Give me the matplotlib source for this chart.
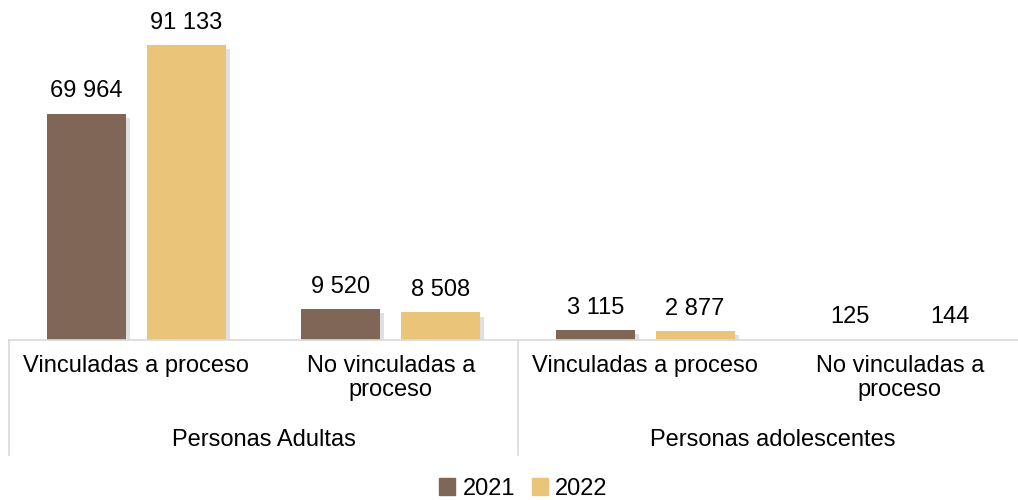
import matplotlib.pyplot as plt
import matplotlib.patheffects as pe
import matplotlib.transforms as mtransforms
from matplotlib.patches import Patch

plt.rcParams["font.family"] = ["Liberation Sans", "DejaVu Sans"]

categories = ["Vinculadas a proceso", "No vinculadas a\nproceso",
              "Vinculadas a proceso", "No vinculadas a\nproceso"]
groups = ["Personas Adultas", "Personas adolescentes"]
years = ["2021", "2022"]
values_2021 = [69964, 9520, 3115, 125]
values_2022 = [91133, 8508, 2877, 144]

COLORS = {"2021": "#806656", "2022": "#e9c479", "axis": "#d9d9d9"}


def fmt(v):
    return f"{v:,}".replace(",", " ")


def main():
    fig = plt.figure(figsize=(10.18, 5.0), dpi=100)
    ax = fig.add_axes([9 / 1018, 160 / 500, 1009 / 1018, 340 / 500])
    ax.set_xlim(-0.5, -0.5 + 1009 / 254.5)
    ax.set_ylim(0, 91133 * 340 / 295)
    ax.axis("off")

    shadow = [pe.SimplePatchShadow(offset=(3, -3), shadow_rgbFace="#999999", alpha=0.3), pe.Normal()]
    width = 0.31
    xs = list(range(len(categories)))
    for off, year, vals in [(-0.196, "2021", values_2021), (0.196, "2022", values_2022)]:
        bars = ax.bar([x + off for x in xs], vals, width=width, color=COLORS[year], label=year)
        for b, v in zip(bars, vals):
            b.set_path_effects(shadow)
            ax.annotate(fmt(v), (b.get_x() + b.get_width() / 2, v), xytext=(0, 8),
                        textcoords="offset points", ha="center", va="bottom", fontsize=17)

    trans = mtransforms.blended_transform_factory(ax.transData, ax.transAxes)
    ax.plot([-0.5, 3.6], [0, 0], color=COLORS["axis"], lw=1.2, transform=trans, clip_on=False)
    for sx in [-0.5, 1.5, 3.5]:
        ax.plot([sx, sx], [0, -0.338], color=COLORS["axis"], lw=1.2, transform=trans, clip_on=False)

    for x, lab in zip(xs, categories):
        ax.text(x, -0.045, lab, ha="center", va="top", fontsize=17, linespacing=1.1,
                transform=trans)
    for i, g in enumerate(groups):
        ax.text(2 * i + 0.5, -0.294, g, ha="center", va="center", fontsize=17, transform=trans)

    handles = [Patch(color=COLORS[y], label=y) for y in years]
    fig.legend(handles=handles, loc="center", bbox_to_anchor=(0.514, 0.022), ncol=2,
               frameon=False, fontsize=17, handlelength=0.7, handleheight=0.7,
               handletextpad=0.3, columnspacing=0.7)

    fig.savefig("out.png", dpi=100)
    plt.close(fig)


if __name__ == "__main__":
    main()
